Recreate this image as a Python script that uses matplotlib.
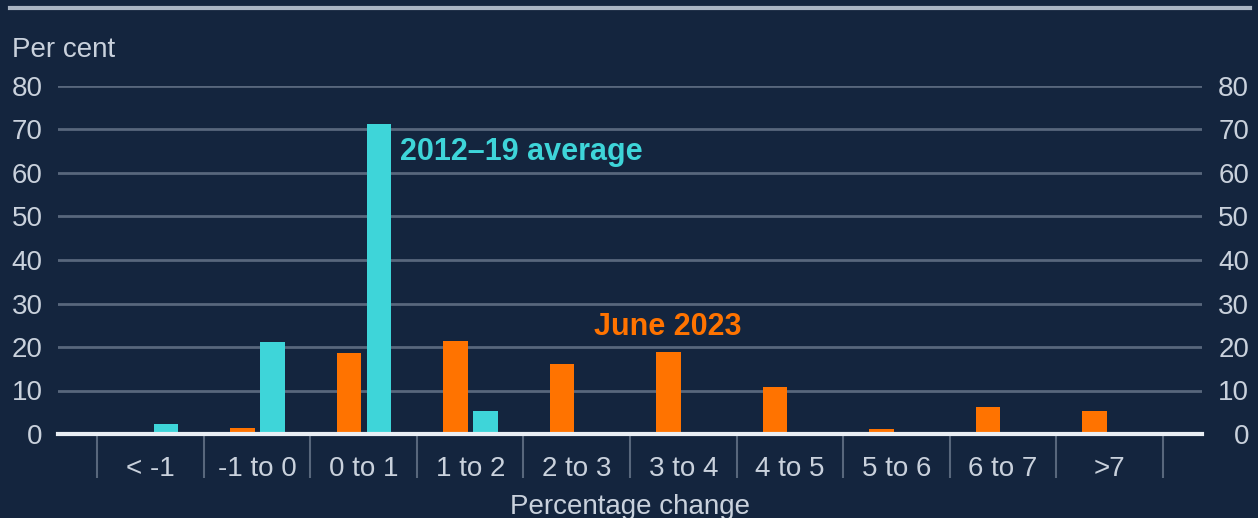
import numpy as np
import matplotlib.pyplot as plt
from matplotlib.lines import Line2D

categories = ['< -1', '-1 to 0', '0 to 1', '1 to 2', '2 to 3', '3 to 4',
              '4 to 5', '5 to 6', '6 to 7', '>7']
june_2023 = [0, 1.4, 18.7, 21.3, 16.2, 18.9, 10.7, 1.1, 6.3, 5.2]
avg_2012_19 = [2.3, 21.1, 71.3, 5.3, 0, 0, 0, 0, 0, 0]
yticks = [0, 10, 20, 30, 40, 50, 60, 70, 80]

bg = '#14253e'
txt = '#c9d1dc'
grid_c = '#58677c'
orange = '#ff7300'
cyan = '#3ed5d9'

plt.rcParams['font.family'] = ['Liberation Sans', 'DejaVu Sans']

fig = plt.figure(figsize=(12.58, 5.18), dpi=100, facecolor=bg)
ax = fig.add_axes([58 / 1258, 1 - 434 / 518, 1144 / 1258, 348 / 518])
ax.set_facecolor(bg)

x = np.arange(len(categories))
w = 0.23
ax.bar(x - 0.14, june_2023, width=w, color=orange, zorder=3)
ax.bar(x + 0.145, avg_2012_19, width=w, color=cyan, zorder=3)

ax.set_xlim(-0.87, 9.87)
ax.set_ylim(0, 80)
for y in yticks[1:]:
    ax.axhline(y, color=grid_c, lw=2, zorder=1)
ax.axhline(0, color='#e9eef4', lw=3, zorder=4, clip_on=False)

# left axis labels
ax.set_yticks(yticks)
ax.tick_params(axis='y', length=0, labelsize=20, colors=txt, pad=11)

# right axis labels, right aligned at the figure edge
ax2 = ax.twinx()
ax2.set_ylim(0, 80)
ax2.set_yticks(yticks, labels=[str(v) for v in yticks], ha='right')
ax2.tick_params(axis='y', length=0, labelsize=20, colors=txt, pad=34)

for a in (ax, ax2):
    for s in a.spines.values():
        s.set_visible(False)

ax.set_xticks(x)
ax.set_xticklabels(categories)
ax.set_xticks(np.arange(len(categories) + 1) - 0.5, minor=True)
ax.tick_params(axis='x', which='major', length=0, labelsize=20, colors=txt, pad=16)
ax.tick_params(axis='x', which='minor', length=32, width=1.5, color=grid_c, direction='out')
ax.set_xlabel('Percentage change', fontsize=20, color=txt, labelpad=8)

ax.text(2.34, 64.8, '2012–19 average', color=cyan, fontsize=22, fontweight='bold',
        va='center', ha='left', zorder=5)
ax.text(4.85, 24.6, 'June 2023', color=orange, fontsize=22, fontweight='bold',
        va='center', ha='center', zorder=5)

fig.text(12 / 1258, 1 - 50 / 518, 'Per cent', fontsize=20, color=txt, va='center', ha='left')
fig.add_artist(Line2D([10 / 1258, 1250 / 1258], [1 - 8 / 518, 1 - 8 / 518],
                      color='#aab5c3', lw=3))

fig.savefig('out.png', dpi=100, facecolor=bg)
